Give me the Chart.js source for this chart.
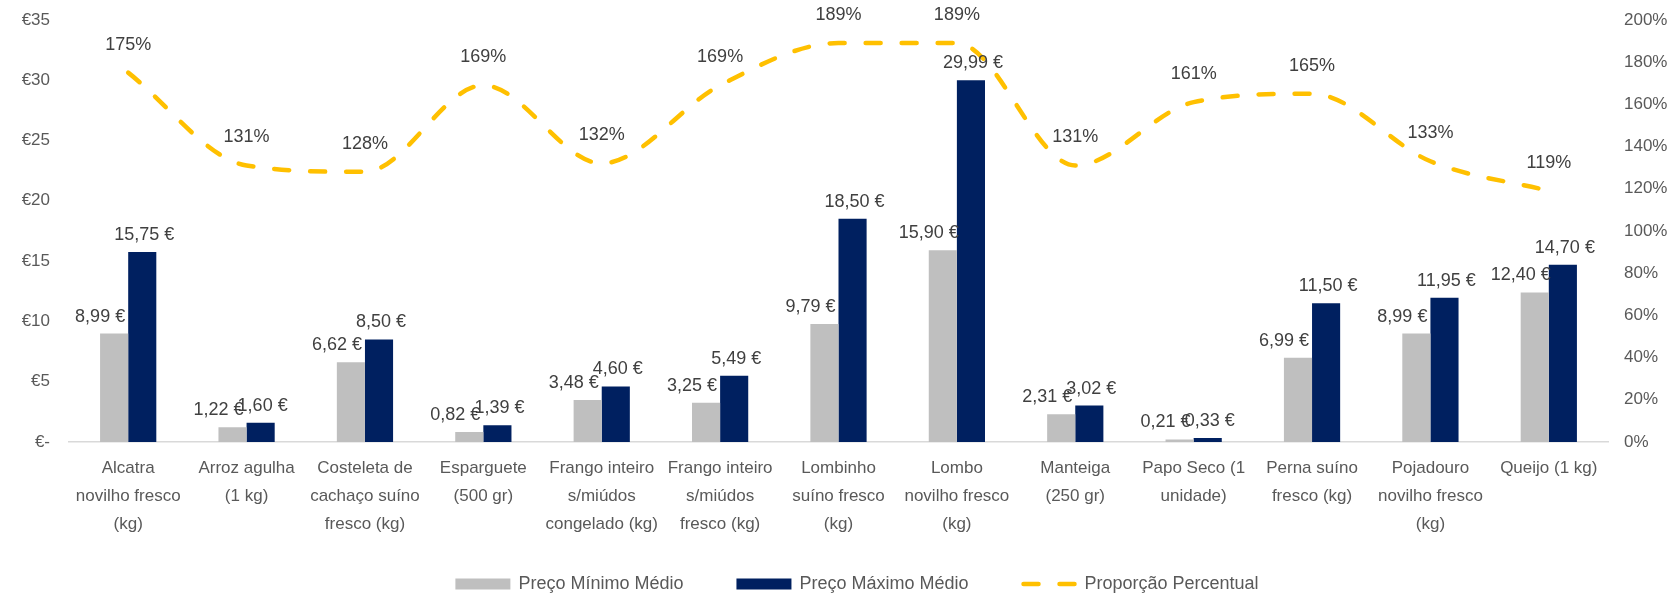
<!DOCTYPE html>
<html>
<head>
<meta charset="utf-8">
<script src="https://cdn.jsdelivr.net/npm/chart.js@4/dist/chart.umd.min.js"></script>
<style>
  html, body { margin: 0; padding: 0; background: #ffffff; }
  #wrap { width: 1672px; height: 596px; position: relative; }
</style>
</head>
<body>
<div id="wrap"><canvas id="chart" width="1672" height="596"></canvas></div>
<script>
// Produtos (rótulos do eixo das categorias, quebrados em linhas)
const categories = [
  ["Alcatra", "novilho fresco", "(kg)"],
  ["Arroz agulha", "(1 kg)"],
  ["Costeleta de", "cachaço suíno", "fresco (kg)"],
  ["Esparguete", "(500 gr)"],
  ["Frango inteiro", "s/miúdos", "congelado (kg)"],
  ["Frango inteiro", "s/miúdos", "fresco (kg)"],
  ["Lombinho", "suíno fresco", "(kg)"],
  ["Lombo", "novilho fresco", "(kg)"],
  ["Manteiga", "(250 gr)"],
  ["Papo Seco (1", "unidade)"],
  ["Perna suíno", "fresco (kg)"],
  ["Pojadouro", "novilho fresco", "(kg)"],
  ["Queijo (1 kg)"]
];

// Preços médios em euros
const precoMinimo = [8.99, 1.22, 6.62, 0.82, 3.48, 3.25, 9.79, 15.90, 2.31, 0.21, 6.99, 8.99, 12.40];
const precoMaximo = [15.75, 1.60, 8.50, 1.39, 4.60, 5.49, 18.50, 29.99, 3.02, 0.33, 11.50, 11.95, 14.70];

// Proporção percentual (máximo / mínimo), em %
const proporcao = [175, 131, 128, 169, 132, 169, 189, 189, 131, 161, 165, 133, 119];

// Marcas dos eixos
const euroTicks = [0, 5, 10, 15, 20, 25, 30, 35];
const pctTicks = [0, 20, 40, 60, 80, 100, 120, 140, 160, 180, 200];

const FONT = "'Liberation Sans', Arial, sans-serif";
const GRAY = '#BFBFBF';
const NAVY = '#002060';
const GOLD = '#FFC000';
const TEXT = '#595959';
const LABEL = '#404040';

Chart.defaults.font.family = FONT;
Chart.defaults.color = TEXT;

const fmtEuro = v => v.toFixed(2).replace('.', ',') + '\u00A0€';

// Rótulos de valor sobre as barras e os pontos da linha
const valueLabels = {
  id: 'valueLabels',
  afterDatasetsDraw(chart) {
    const ctx = chart.ctx;
    ctx.save();
    ctx.textAlign = 'center';
    ctx.textBaseline = 'middle';
    ctx.fillStyle = LABEL;
    ctx.font = '18px ' + FONT;
    chart.data.datasets.forEach((ds, di) => {
      const meta = chart.getDatasetMeta(di);
      meta.data.forEach((el, i) => {
        const v = ds.data[i];
        if (ds.type === 'line') {
          ctx.fillText(v + '%', el.x, el.y - 28);
        } else {
          const dx = di === 0 ? -14 : 2;
          ctx.fillText(fmtEuro(v), el.x + dx, el.y - 17);
        }
      });
    });
    ctx.restore();
  }
};

// Legenda horizontal por baixo do eixo das categorias
const bottomLegend = {
  id: 'bottomLegend',
  afterDraw(chart) {
    const ctx = chart.ctx;
    const boxW = 55, boxH = 11, textGap = 8, itemGap = 53;
    const centerX = 857, y = 584;
    ctx.save();
    ctx.font = '18px ' + FONT;
    const items = chart.data.datasets.map(ds => ({ ds, w: ctx.measureText(ds.label).width }));
    const total = items.reduce((s, it) => s + boxW + textGap + it.w, 0) + itemGap * (items.length - 1);
    let x = centerX - total / 2;
    items.forEach(({ ds, w }) => {
      if (ds.type === 'line') {
        ctx.save();
        ctx.strokeStyle = ds.borderColor;
        ctx.lineWidth = ds.borderWidth;
        ctx.lineCap = 'round';
        ctx.setLineDash(ds.borderDash);
        ctx.beginPath();
        ctx.moveTo(x + 2, y);
        ctx.lineTo(x + boxW - 2, y);
        ctx.stroke();
        ctx.restore();
      } else {
        ctx.fillStyle = ds.backgroundColor;
        ctx.fillRect(x, y - boxH / 2, boxW, boxH);
      }
      ctx.fillStyle = TEXT;
      ctx.textAlign = 'left';
      ctx.textBaseline = 'middle';
      ctx.fillText(ds.label, x + boxW + textGap, y);
      x += boxW + textGap + w + itemGap;
    });
    ctx.restore();
  }
};

new Chart(document.getElementById('chart'), {
  data: {
    labels: categories,
    datasets: [
      {
        type: 'bar',
        label: 'Preço Mínimo Médio',
        data: precoMinimo,
        backgroundColor: GRAY,
        yAxisID: 'y',
        categoryPercentage: 0.475,
        barPercentage: 1.0,
        order: 1
      },
      {
        type: 'bar',
        label: 'Preço Máximo Médio',
        data: precoMaximo,
        backgroundColor: NAVY,
        yAxisID: 'y',
        categoryPercentage: 0.475,
        barPercentage: 1.0,
        order: 2
      },
      {
        type: 'line',
        label: 'Proporção Percentual',
        data: proporcao,
        borderColor: GOLD,
        backgroundColor: GOLD,
        borderWidth: 4.5,
        borderDash: [15, 21],
        borderCapStyle: 'round',
        cubicInterpolationMode: 'monotone',
        pointRadius: 0,
        pointHoverRadius: 0,
        fill: false,
        yAxisID: 'y1',
        order: 0
      }
    ]
  },
  options: {
    responsive: false,
    animation: false,
    devicePixelRatio: 1,
    layout: { padding: { top: 0, bottom: 46, left: 0, right: 0 } },
    plugins: {
      tooltip: { enabled: false },
      legend: { display: false }
    },
    scales: {
      x: {
        grid: { display: false, drawTicks: false },
        border: { display: true, color: '#D9D9D9', width: 1.5 },
        ticks: {
          padding: 12,
          maxRotation: 0,
          autoSkip: false,
          color: TEXT,
          font: { size: 17, family: FONT, lineHeight: '28px' }
        }
      },
      y: {
        position: 'left',
        min: 0,
        max: 35,
        afterBuildTicks(axis) { axis.ticks = euroTicks.map(v => ({ value: v })); },
        afterFit(axis) { axis.width = 69; },
        grid: { display: false, drawTicks: false },
        border: { display: false },
        ticks: {
          padding: 19,
          color: TEXT,
          font: { size: 17, family: FONT, lineHeight: 0.1 },
          callback: v => v === 0 ? '€-' : '€' + v
        }
      },
      y1: {
        position: 'right',
        min: 0,
        max: 200,
        afterBuildTicks(axis) { axis.ticks = pctTicks.map(v => ({ value: v })); },
        afterFit(axis) { axis.width = 64; },
        grid: { display: false, drawTicks: false },
        border: { display: false },
        ticks: {
          padding: 16,
          color: TEXT,
          font: { size: 17, family: FONT, lineHeight: 0.1 },
          callback: v => v + '%'
        }
      }
    }
  },
  plugins: [valueLabels, bottomLegend]
});
</script>
</body>
</html>
